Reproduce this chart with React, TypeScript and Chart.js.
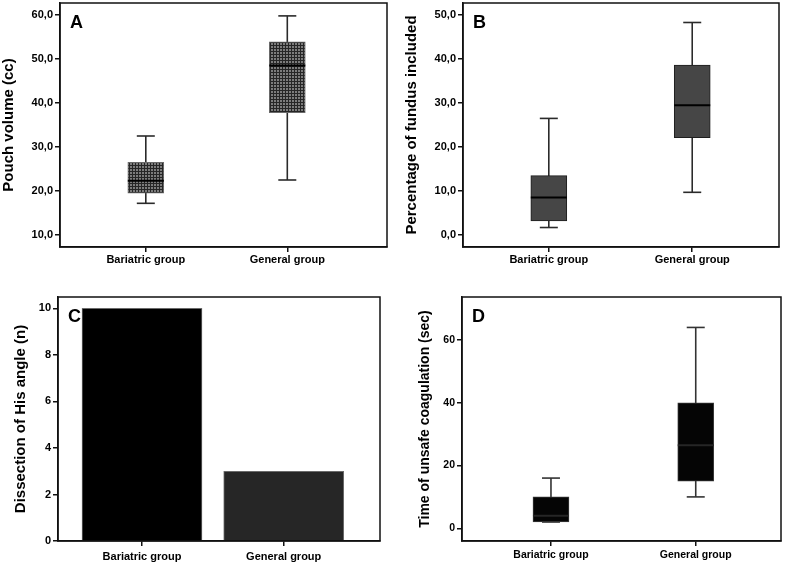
import React, { useEffect, useRef } from 'react';
import { Chart, registerables } from 'chart.js';

Chart.register(...registerables);

const FONT = "'Liberation Sans', Arial, Helvetica, sans-serif";

// ---------- shared categories ----------
const categories = ['Bariatric group', 'General group'];
const categoryPositions = [1, 2];

// ---------- Panel A: Pouch volume (cc) ----------
const pouchMin = [17.2, 22.5];
const pouchQ1 = [19.5, 37.8];
const pouchMedian = [22.3, 48.5];
const pouchQ3 = [26.5, 53.9];
const pouchMax = [32.5, 59.8];
const pouchTicks = [10, 20, 30, 40, 50, 60];
const pouchTickLabels = ['10,0', '20,0', '30,0', '40,0', '50,0', '60,0'];

// ---------- Panel B: Percentage of fundus included ----------
const fundusMin = [1.7, 9.7];
const fundusQ1 = [3.2, 22.1];
const fundusMedian = [8.5, 29.5];
const fundusQ3 = [13.5, 38.6];
const fundusMax = [26.5, 48.3];
const fundusTicks = [0, 10, 20, 30, 40, 50];
const fundusTickLabels = ['0,0', '10,0', '20,0', '30,0', '40,0', '50,0'];

// ---------- Panel C: Dissection of His angle (n) ----------
const hisCounts = [10, 3];
const hisTicks = [0, 2, 4, 6, 8, 10];
const hisTickLabels = ['0', '2', '4', '6', '8', '10'];

// ---------- Panel D: Time of unsafe coagulation (sec) ----------
const coagMin = [2, 10];
const coagQ1 = [2, 15];
const coagMedian = [4, 26.5];
const coagQ3 = [10, 40];
const coagMax = [16, 64];
const coagTicks = [0, 20, 40, 60];
const coagTickLabels = ['0', '20', '40', '60'];

type Area = { l: number; t: number; r: number; b: number };

type PanelSpec = {
  letter: string;
  x: number;
  y: number;
  w: number;
  h: number;
  area: Area; // in canvas coordinates
  xMin: number;
  xMax: number;
  yMin: number;
  yMax: number;
  yTicks: number[];
  yTickLabels: string[];
  yTitle: string;
  titleSize: number;
  titlePad: number;
  tickSize: number;
  xLabelPad: number;
  datasets: (ctx: CanvasRenderingContext2D) => any[];
};

function makePattern(ctx: CanvasRenderingContext2D) {
  const pc = document.createElement('canvas');
  pc.width = 3;
  pc.height = 3;
  const g = pc.getContext('2d')!;
  g.fillStyle = '#7c7c7c';
  g.fillRect(0, 0, 3, 3);
  g.fillStyle = '#262626';
  g.fillRect(0, 0, 3, 1);
  g.fillRect(0, 0, 1, 3);
  return ctx.createPattern(pc, 'repeat') || '#555';
}

function boxDatasets(
  mins: number[],
  q1s: number[],
  meds: number[],
  q3s: number[],
  maxs: number[],
  fill: any,
  border: string,
  medianColor: string,
  whiskerColor: string
) {
  const whiskers = categories.map((_, i) => ({
    type: 'line',
    data: [
      { x: categoryPositions[i], y: mins[i] },
      { x: categoryPositions[i], y: maxs[i] },
    ],
    borderColor: whiskerColor,
    borderWidth: 1.6,
    pointRadius: 0,
    fill: false,
    tension: 0,
    order: 3,
  }));
  const box = {
    type: 'bar',
    data: categories.map((_, i) => ({ x: categoryPositions[i], y: [q1s[i], q3s[i]] })),
    backgroundColor: fill,
    borderColor: border,
    borderWidth: 1,
    borderSkipped: false,
    barThickness: 36,
    grouped: false,
    order: 2,
  };
  const medians = {
    type: 'scatter',
    data: categories.map((_, i) => ({ x: categoryPositions[i], y: meds[i] })),
    pointStyle: 'line',
    pointRadius: 18,
    pointBorderWidth: 2,
    pointBorderColor: medianColor,
    pointBackgroundColor: medianColor,
    order: 1,
  };
  const caps = {
    type: 'scatter',
    data: [
      ...categories.map((_, i) => ({ x: categoryPositions[i], y: maxs[i] })),
      ...categories.map((_, i) => ({ x: categoryPositions[i], y: mins[i] })),
    ],
    pointStyle: 'line',
    pointRadius: 9,
    pointBorderWidth: 1.6,
    pointBorderColor: whiskerColor,
    pointBackgroundColor: whiskerColor,
    order: 1,
  };
  return [...whiskers, box, medians, caps];
}

const panels: PanelSpec[] = [
  {
    letter: 'A',
    x: 0,
    y: 0,
    w: 392,
    h: 282,
    area: { l: 60, t: 3, r: 387, b: 247 },
    xMin: 0.3936,
    xMax: 2.7046,
    yMin: 7.27,
    yMax: 62.73,
    yTicks: pouchTicks,
    yTickLabels: pouchTickLabels,
    yTitle: 'Pouch volume (cc)',
    titleSize: 15,
    titlePad: 0.3,
    tickSize: 11,
    xLabelPad: 1.5,
    datasets: (ctx) =>
      boxDatasets(pouchMin, pouchQ1, pouchMedian, pouchQ3, pouchMax, makePattern(ctx), '#6a6a6a', '#000', '#2a2a2a'),
  },
  {
    letter: 'B',
    x: 392,
    y: 0,
    w: 395,
    h: 282,
    area: { l: 71, t: 3, r: 387, b: 247 },
    xMin: 0.4017,
    xMax: 2.605,
    yMin: -2.73,
    yMax: 52.73,
    yTicks: fundusTicks,
    yTickLabels: fundusTickLabels,
    yTitle: 'Percentage of fundus included',
    titleSize: 15,
    titlePad: 10.7,
    tickSize: 11,
    xLabelPad: 1.5,
    datasets: () =>
      boxDatasets(fundusMin, fundusQ1, fundusMedian, fundusQ3, fundusMax, '#464646', '#1e1e1e', '#000', '#2a2a2a'),
  },
  {
    letter: 'C',
    x: 0,
    y: 282,
    w: 392,
    h: 282,
    area: { l: 58, t: 15, r: 380, b: 259 },
    xMin: 0.4072,
    xMax: 2.6796,
    yMin: 0,
    yMax: 10.49,
    yTicks: hisTicks,
    yTickLabels: hisTickLabels,
    yTitle: 'Dissection of His angle (n)',
    titleSize: 15,
    titlePad: 11.5,
    tickSize: 11,
    xLabelPad: 4,
    datasets: () => [
      {
        type: 'bar',
        data: categories.map((_, i) => ({ x: categoryPositions[i], y: hisCounts[i] })),
        backgroundColor: ['#000000', '#262626'],
        borderColor: '#6a6a6a',
        borderWidth: 1,
        borderSkipped: 'bottom',
        barThickness: 120,
        grouped: false,
      },
    ],
  },
  {
    letter: 'D',
    x: 392,
    y: 282,
    w: 395,
    h: 282,
    area: { l: 70, t: 15, r: 389, b: 259 },
    xMin: 0.3854,
    xMax: 2.589,
    yMin: -4.05,
    yMax: 73.7,
    yTicks: coagTicks,
    yTickLabels: coagTickLabels,
    yTitle: 'Time of unsafe coagulation (sec)',
    titleSize: 14,
    titlePad: 24.6,
    tickSize: 10.5,
    xLabelPad: 2.5,
    datasets: () =>
      boxDatasets(coagMin, coagQ1, coagMedian, coagQ3, coagMax, '#050505', '#3a3a3a', '#262626', '#333333'),
  },
];

function panelPlugin(letter: string) {
  return {
    id: 'panelFrame' + letter,
    afterDraw(chart: any) {
      const { ctx, chartArea: a } = chart;
      ctx.save();
      ctx.strokeStyle = '#111';
      ctx.lineWidth = 1.5;
      ctx.strokeRect(a.left, a.top, a.right - a.left, a.bottom - a.top);
      ctx.fillStyle = '#000';
      ctx.font = `bold 18px ${FONT}`;
      ctx.textBaseline = 'alphabetic';
      ctx.textAlign = 'left';
      ctx.fillText(letter, a.left + 10, a.top + 25);
      ctx.restore();
    },
  };
}

function buildConfig(spec: PanelSpec, ctx: CanvasRenderingContext2D): any {
  const { area, w, h } = spec;
  const tickFont = { family: FONT, size: spec.tickSize, weight: 'bold' as const };
  return {
    type: 'bar',
    data: { datasets: spec.datasets(ctx) },
    plugins: [panelPlugin(spec.letter)],
    options: {
      animation: false,
      responsive: false,
      devicePixelRatio: 1,
      events: [],
      layout: { autoPadding: false, padding: { left: 0, top: area.t, right: w - area.r, bottom: 0 } },
      plugins: { legend: { display: false }, tooltip: { enabled: false }, title: { display: false } },
      scales: {
        x: {
          type: 'linear',
          min: spec.xMin,
          max: spec.xMax,
          offset: false,
          afterBuildTicks: (s: any) => {
            s.ticks = categoryPositions.map((v) => ({ value: v }));
          },
          afterFit: (s: any) => {
            s.height = h - area.b;
            s.paddingLeft = 0;
            s.paddingRight = 0;
          },
          ticks: {
            callback: (v: number) => {
              const k = categoryPositions.indexOf(v);
              return k >= 0 ? categories[k] : '';
            },
            autoSkip: false,
            maxRotation: 0,
            minRotation: 0,
            color: '#000',
            font: tickFont,
            padding: spec.xLabelPad,
          },
          grid: {
            offset: false,
            drawOnChartArea: false,
            drawTicks: true,
            tickLength: 5,
            color: '#111',
            lineWidth: 1.5,
          },
          border: { display: true, color: '#111', width: 1.5 },
        },
        y: {
          type: 'linear',
          min: spec.yMin,
          max: spec.yMax,
          afterBuildTicks: (s: any) => {
            s.ticks = spec.yTicks.map((v) => ({ value: v }));
          },
          afterFit: (s: any) => {
            s.width = area.l;
            s.paddingTop = 0;
            s.paddingBottom = 0;
          },
          ticks: {
            callback: (v: number) => {
              const k = spec.yTicks.indexOf(v);
              return k >= 0 ? spec.yTickLabels[k] : '';
            },
            autoSkip: false,
            color: '#000',
            font: tickFont,
            padding: 2,
          },
          grid: { drawOnChartArea: false, drawTicks: true, tickLength: 5, color: '#111', lineWidth: 1.5 },
          border: { display: true, color: '#111', width: 1.5 },
          title: {
            display: true,
            text: spec.yTitle,
            color: '#000',
            font: { family: FONT, size: spec.titleSize, weight: 'bold' },
            padding: { top: spec.titlePad, bottom: 0 },
          },
        },
      },
    },
  };
}

function ChartPanel({ spec }: { spec: PanelSpec }) {
  const ref = useRef<HTMLCanvasElement>(null);
  useEffect(() => {
    const canvas = ref.current!;
    const ctx = canvas.getContext('2d')!;
    const chart = new Chart(canvas, buildConfig(spec, ctx));
    return () => chart.destroy();
  }, [spec]);
  return (
    <canvas
      ref={ref}
      width={spec.w}
      height={spec.h}
      style={{ position: 'absolute', left: spec.x, top: spec.y, width: spec.w, height: spec.h }}
    />
  );
}

export default function App() {
  return (
    <div
      style={{
        position: 'absolute',
        left: 0,
        top: 0,
        width: 787,
        height: 564,
        background: '#fff',
        overflow: 'hidden',
      }}
    >
      {panels.map((p) => (
        <ChartPanel key={p.letter} spec={p} />
      ))}
    </div>
  );
}
